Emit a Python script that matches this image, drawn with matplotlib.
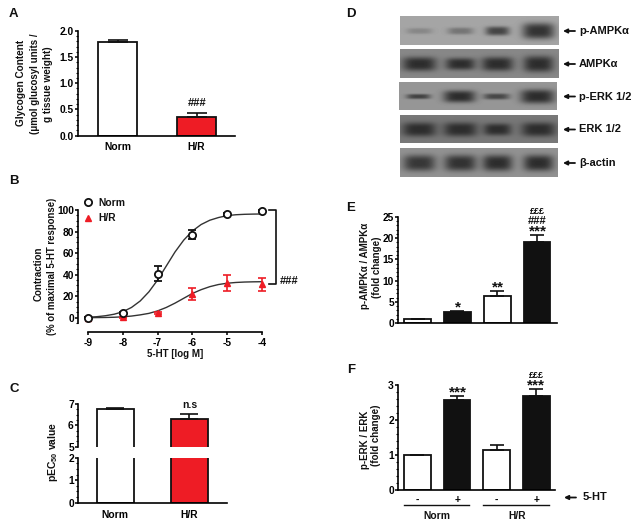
import numpy as np
import matplotlib
matplotlib.use('Agg')
import matplotlib.pyplot as plt

W, H = 639, 529
BLACK = '#111111'
RED = '#ee1c25'

plt.rcParams['font.family'] = ['Liberation Sans', 'DejaVu Sans']
plt.rcParams['font.weight'] = 'bold'
plt.rcParams['axes.labelweight'] = 'bold'
plt.rcParams['mathtext.fontset'] = 'custom'
plt.rcParams['mathtext.bf'] = 'Liberation Sans:bold'
plt.rcParams['mathtext.rm'] = 'Liberation Sans:bold'

# panel A
a_labels = ['Norm', 'H/R']
a_vals = [1.78, 0.36]
a_errs = [0.04, 0.08]

# panel B
b_dose = [-9, -8, -7, -6, -5, -4]
b_norm = [0, 4, 41, 77, 96, 99]
b_norm_err = [0.5, 1, 7, 4, 1.5, 1]
b_hr = [0, 0.5, 4, 22, 32, 31]
b_hr_err = [0.5, 0.5, 1, 6, 7.5, 6]
fit_x = [-9, -8.75, -8.5, -8.25, -8, -7.75, -7.5, -7.25, -7, -6.75, -6.5, -6.25, -6,
         -5.75, -5.5, -5.25, -5, -4.75, -4.5, -4.25, -4]
fit_norm = [0.4, 0.9, 1.8, 3.2, 5.5, 9.5, 15.5, 24, 35, 48, 61, 72, 80.5,
            86.5, 90.5, 93, 94.8, 95.6, 96, 96.2, 96.3]
fit_hr = [0, 0.1, 0.2, 0.4, 0.8, 1.5, 2.6, 4, 6.3, 9.5, 13.5, 18, 22.5,
          26, 28.8, 30.8, 32, 32.7, 33.1, 33.3, 33.4]

# panel C
c_labels = ['Norm', 'H/R']
c_vals = [6.75, 6.3]
c_errs = [0.06, 0.25]

# panel E
e_vals = [1, 2.5, 6.3, 19.2]
e_errs = [0, 0.3, 1.2, 1.5]
e_cols = ['white', BLACK, 'white', BLACK]

# panel F
f_vals = [1, 2.58, 1.15, 2.7]
f_errs = [0, 0.1, 0.13, 0.18]
f_cols = ['white', BLACK, 'white', BLACK]
f_signs = ['-', '+', '-', '+']

# panel D, blots
blot_names = ['p-AMPKα', 'AMPKα', 'p-ERK 1/2', 'ERK 1/2', 'β-actin']
blot_boxes = [(400, 16, 559, 45), (400, 49, 559, 78), (399, 82, 557, 110),
              (400, 115, 558, 143), (400, 148, 558, 177)]
blot_bg = [165, 135, 150, 120, 145]
lane_x = [19, 60, 97, 138]
band_w = [[13, 13, 12, 16], [17, 15, 16, 15], [12, 16, 13, 17], [17, 17, 14, 17], [16, 16, 15, 15]]
band_h = [[3, 3.5, 4.5, 8], [7, 6, 7, 8], [2.5, 6, 3, 7], [7, 7, 6, 7], [8, 8, 8, 8]]
band_dark = [[0.25, 0.4, 0.8, 0.95], [1, 1, 1, 1], [0.8, 1, 0.75, 1],
             [1, 1, 1, 1], [0.9, 0.95, 1, 1]]

fig = plt.figure(figsize=(W / 100, H / 100), dpi=100, facecolor='white')


def px_axes(l, t, r, b):
    ax = fig.add_axes([l / W, 1 - b / H, (r - l) / W, (b - t) / H])
    ax.patch.set_alpha(0)
    ax.spines[['top', 'right']].set_visible(False)
    ax.spines['left'].set_linewidth(1.2)
    ax.spines['bottom'].set_linewidth(1.2)
    ax.tick_params(which='major', length=2.5, width=1.2, labelsize=7.4, pad=0.5, color=BLACK)
    ax.tick_params(which='minor', length=1.5, width=0.8, color=BLACK)
    return ax


def px_text(x, y, s, size=7.2, ha='center', rot=0, **kw):
    fig.text(x / W, 1 - y / H, s, fontsize=size, ha=ha, va='center', rotation=rot,
             fontweight='bold', color=BLACK, **kw)


def bars(ax, vals, errs, cols, width, cap):
    xs = np.arange(len(vals))
    ax.bar(xs, vals, width, color=cols, edgecolor=BLACK, linewidth=1.3)
    ax.errorbar(xs, vals, yerr=[np.zeros(len(errs)), errs], fmt='none', ecolor=BLACK,
                elinewidth=1.2, capsize=cap, capthick=1.2)


# A
ax = px_axes(78, 31, 235, 135.5)
bars(ax, a_vals, a_errs, ['white', RED], 0.494, 7)
ax.set_xlim(-0.5, 1.487)
ax.set_ylim(0, 2)
ax.set_xticks([0, 1], a_labels)
ax.tick_params(axis='x', length=0, pad=5)
ax.set_yticks([0, 0.5, 1, 1.5, 2], ['0.0', '0.5', '1.0', '1.5', '2.0'])
ax.set_yticks(np.arange(0, 2.01, 0.1), minor=True)
px_text(197, 103, '###', 8)
px_text(21, 83, 'Glycogen Content', 7.2, rot=90)
px_text(34.5, 84, '(μmol glucosyl units /', 7.0, rot=90)
px_text(48, 84, 'g tissue weight)', 7.2, rot=90)
px_text(13, 14, 'A', 9.5)

# B
ax = px_axes(88, 210, 262, 332)
ax.plot(fit_x, fit_norm, color='#333333', lw=1)
ax.plot(fit_x, fit_hr, color='#333333', lw=1)
ax.errorbar(b_dose, b_hr, yerr=b_hr_err, fmt='^', color=RED, ms=4.5, elinewidth=1.2,
            capsize=3, capthick=1.2, clip_on=False, zorder=3)
ax.errorbar(b_dose, b_norm, yerr=b_norm_err, fmt='o', mfc='white', mec=BLACK, mew=1.3, ms=5.2,
            ecolor=BLACK, elinewidth=1.2, capsize=3, capthick=1.2, clip_on=False, zorder=4)
ax.set_xlim(-9, -4)
ax.set_ylim(-13.3, 100)
ax.spines['left'].set_position(('outward', 7.2))
ax.spines['left'].set_bounds(-5, 100)
ax.set_xticks(b_dose, [str(d) for d in b_dose])
ax.tick_params(axis='x', pad=1.5)
ax.set_yticks([0, 20, 40, 60, 80, 100])
ax.set_yticks(np.arange(-5, 101, 5), minor=True)
ax.plot([-3.8, -3.6, -3.6, -3.8], [100, 100, 31, 31], color=BLACK, lw=1.2, clip_on=False)
px_text(175, 354, '5-HT [log M]', 7)
px_text(38.5, 274, 'Contraction', 7, rot=90)
px_text(52, 266, '(% of maximal 5-HT response)', 6.9, rot=90)
px_text(289, 280.5, '###', 8)
px_text(14, 181, 'B', 9.5)
fig.add_artist(plt.Line2D([88 / W], [1 - 202 / H], marker='o', mfc='white', mec=BLACK, mew=1.3, ms=5.2, ls=''))
fig.add_artist(plt.Line2D([88 / W], [1 - 218 / H], marker='^', color=RED, ms=4.5, ls=''))
px_text(98, 202.5, 'Norm', 7.4, ha='left')
px_text(98, 218, 'H/R', 7.4, ha='left')

# C, broken axis
ax_hi = px_axes(78, 404, 227, 446.7)
bars(ax_hi, c_vals, c_errs, ['white', RED], 0.5, 6.5)
ax_hi.set_xlim(-0.5, 1.507)
ax_hi.set_ylim(5, 7)
ax_hi.spines['bottom'].set_visible(False)
ax_hi.set_xticks([])
ax_hi.set_yticks([5, 6, 7])
ax_hi.set_yticks(np.arange(5, 7.01, 0.25), minor=True)
ax_lo = px_axes(78, 457.7, 227, 502.7)
bars(ax_lo, c_vals, [0, 0], ['white', RED], 0.5, 0)
ax_lo.set_xlim(-0.5, 1.507)
ax_lo.set_ylim(0, 2)
ax_lo.set_xticks([0, 1], c_labels)
ax_lo.tick_params(axis='x', length=0, pad=5)
ax_lo.set_yticks([0, 1, 2])
ax_lo.set_yticks(np.arange(0, 2.01, 0.25), minor=True)
px_text(190, 405, 'n.s', 7.5)
px_text(53, 452, r'pEC$_{\mathbf{50}}$ value', 7.5, rot=90)
px_text(14, 389, 'C', 9.5)

# D
for i, (l, t, r, b) in enumerate(blot_boxes):
    yy, xx = np.mgrid[0:b - t, 0:r - l]
    img = np.full(xx.shape, float(blot_bg[i]))
    for cx, w, h, d in zip(lane_x, band_w[i], band_h[i], band_dark[i]):
        shade = d * np.exp(-np.abs((xx - cx) / w) ** 3.5 - np.abs((yy - (b - t) / 2) / h) ** 3)
        img = img * (1 - shade) + 45 * shade
    ax = fig.add_axes([l / W, 1 - b / H, (r - l) / W, (b - t) / H])
    ax.imshow(img, cmap='gray', vmin=0, vmax=255, aspect='auto', interpolation='bilinear')
    ax.axis('off')
    ym = (t + b) / 2
    fig.add_artist(matplotlib.patches.FancyArrowPatch(
        (575 / W, 1 - (ym + 0.5) / H), (563 / W, 1 - (ym + 0.5) / H), transform=fig.transFigure,
        arrowstyle='-|>', mutation_scale=6, lw=1.3, color=BLACK, shrinkA=0, shrinkB=0))
    px_text(579, ym + 0.5, blot_names[i], 8, ha='left')
px_text(351, 14, 'D', 9.5)

# E
ax = px_axes(398, 217, 557, 323)
bars(ax, e_vals, e_errs, e_cols, 0.67, 4.7)
ax.set_xlim(-0.49, 3.5)
ax.set_ylim(0, 25)
ax.set_xticks([])
ax.set_yticks([0, 5, 10, 15, 20, 25])
ax.set_yticks(np.arange(0, 25.1, 1), minor=True)
px_text(458, 307, '*', 11)
px_text(497.5, 287, '**', 11)
px_text(537.5, 231, '***', 11)
px_text(537.5, 221, '###', 8)
px_text(537.5, 211, '£££', 6.5)
px_text(365, 266, 'p-AMPKα / AMPKα', 7, rot=90)
px_text(377, 267, '(fold change)', 7, rot=90)
px_text(351, 208, 'E', 9.5)

# F
ax = px_axes(398, 385.3, 555, 489.7)
bars(ax, f_vals, f_errs, f_cols, 0.67, 4.7)
ax.set_xlim(-0.49, 3.47)
ax.set_ylim(0, 3)
ax.set_xticks(range(4), f_signs)
ax.tick_params(axis='x', length=0, pad=4)
ax.set_yticks([0, 1, 2, 3])
ax.set_yticks(np.arange(0, 3.01, 0.2), minor=True)
px_text(458, 392, '***', 11)
px_text(536, 385, '***', 11)
px_text(536, 375, '£££', 6.5)
px_text(365, 440, 'p-ERK / ERK', 7, rot=90)
px_text(376, 435, '(fold change)', 7, rot=90)
px_text(351, 370, 'F', 9.5)
for l, r in [(404, 469), (483, 549)]:
    fig.add_artist(plt.Line2D([l / W, r / W], [1 - 505 / H] * 2, color=BLACK, lw=1))
px_text(437, 516, 'Norm', 7.4)
px_text(517, 516, 'H/R', 7.4)
fig.add_artist(matplotlib.patches.FancyArrowPatch(
    (576 / W, 1 - 497.5 / H), (564 / W, 1 - 497.5 / H), transform=fig.transFigure,
    arrowstyle='-|>', mutation_scale=6, lw=1.3, color=BLACK, shrinkA=0, shrinkB=0))
px_text(583, 497, '5-HT', 8, ha='left')

fig.savefig('out.png', dpi=100)
